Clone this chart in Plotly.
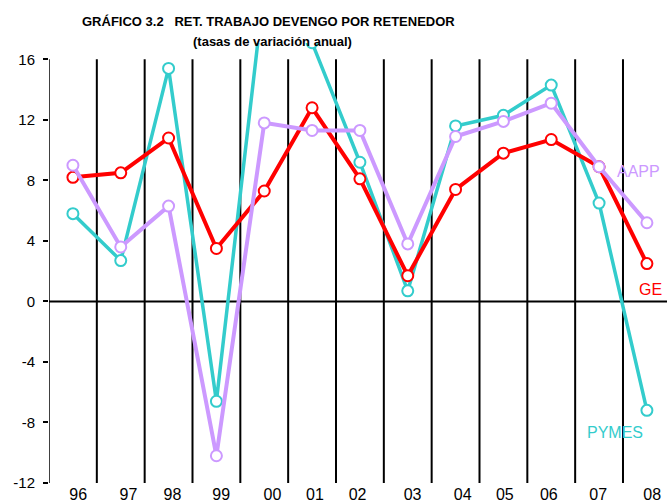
import plotly.graph_objects as go

years = ["96", "97", "98", "99", "00", "01", "02", "03", "04", "05", "06", "07", "08"]
ge = [8.2, 8.5, 10.8, 3.5, 7.3, 12.8, 8.1, 1.7, 7.4, 9.8, 10.7, 8.9, 2.5]
aapp = [9.0, 3.6, 6.3, -10.2, 11.8, 11.3, 11.3, 3.8, 10.9, 11.9, 13.1, 8.9, 5.2]
pymes = [5.8, 2.7, 15.4, -6.6, 20.8, 17.1, 9.2, 0.7, 11.6, 12.3, 14.3, 6.5, -7.2]

y_ticks = [-12, -8, -4, 0, 4, 8, 12, 16]
label_pos = [0.11, 1.16, 2.08, 3.10, 4.17, 5.06, 5.95, 7.10, 8.15, 9.03, 9.95, 10.98, 12.11]

idx = list(range(len(years)))

RED = "#FF0000"
LILAC = "#CC99FF"
TEAL = "#33CCCC"

fig = go.Figure()

def add_series(vals, color, name, lw):
    fig.add_trace(go.Scatter(
        x=idx, y=vals, mode="lines+markers", name=name,
        line=dict(color=color, width=lw),
        marker=dict(symbol="circle", size=11, color="white",
                    line=dict(color=color, width=2)),
        cliponaxis=True, showlegend=False))

add_series(pymes, TEAL, "PYMES", 3.5)
add_series(ge, RED, "GE", 4)
add_series(aapp, LILAC, "AAPP", 4)

ymin, ymax = y_ticks[0], y_ticks[-1]

shapes = []
# y axis line
shapes.append(dict(type="line", xref="x", yref="y", x0=-0.5, x1=-0.5,
                   y0=ymin, y1=ymax, line=dict(color="black", width=1.5), layer="above"))
# vertical separators between years
for i in range(len(years) - 1):
    shapes.append(dict(type="line", xref="x", yref="y", x0=i + 0.5, x1=i + 0.5,
                       y0=ymin, y1=ymax, line=dict(color="black", width=2), layer="below"))
# zero line
shapes.append(dict(type="line", xref="paper", yref="y", x0=0, x1=1,
                   y0=0, y1=0, line=dict(color="black", width=2), layer="below"))

annotations = [
    dict(text="<b>GRÁFICO 3.2   RET. TRABAJO DEVENGO POR RETENEDOR</b>",
         xref="paper", yref="paper", x=(268.5 - 49) / 618, y=(502 - 21.7 - 18.7) / 440.3,
         xanchor="center", yanchor="middle", showarrow=False,
         font=dict(family="Liberation Sans", size=13, color="black")),
    dict(text="<b>(tasas de variación anual)</b>",
         xref="paper", yref="paper", x=(272 - 49) / 618, y=(502 - 41.7 - 18.7) / 440.3,
         xanchor="center", yanchor="middle", showarrow=False,
         font=dict(family="Liberation Sans", size=13, color="black")),
    dict(text="AAPP", x=11.83, y=8.56, xref="x", yref="y", showarrow=False,
         font=dict(family="Liberation Sans", size=16, color=LILAC)),
    dict(text="GE", x=12.08, y=0.77, xref="x", yref="y", showarrow=False,
         font=dict(family="Liberation Sans", size=16, color=RED)),
    dict(text="PYMES", x=11.33, y=-8.67, xref="x", yref="y", showarrow=False,
         font=dict(family="Liberation Sans", size=16, color=TEAL)),
]

fig.update_layout(
    width=667, height=502,
    margin=dict(l=49, r=0, t=43, b=18.7),
    paper_bgcolor="white", plot_bgcolor="white",
    xaxis=dict(range=[-0.5, 12.42], tickmode="array", tickvals=label_pos,
               ticktext=years, showgrid=False, zeroline=False, showline=False,
               ticks="", tickfont=dict(family="Liberation Sans", size=16, color="black"),
               ticklabelstandoff=0),
    yaxis=dict(range=[ymin, 17.08], tickmode="array", tickvals=y_ticks,
               ticktext=[str(v) for v in y_ticks], showgrid=False, zeroline=False,
               showline=False, ticks="outside", ticklen=5, tickwidth=1.5,
               tickcolor="black", ticklabelstandoff=5,
               tickfont=dict(family="Liberation Sans", size=15, color="black")),
    shapes=shapes, annotations=annotations,
)

fig.write_html("out.html", config={"displayModeBar": False},
               post_script="document.body.style.margin='0';")
